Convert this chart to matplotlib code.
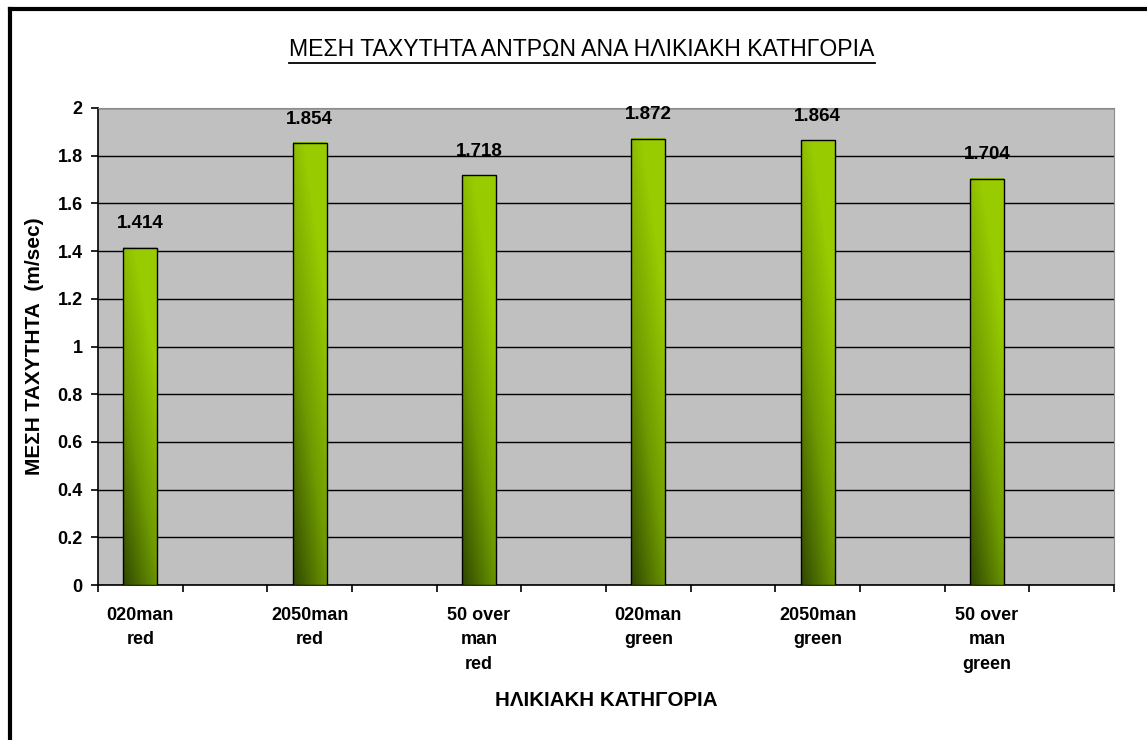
import numpy as np
import matplotlib
matplotlib.use("Agg")
import matplotlib.pyplot as plt
from matplotlib.lines import Line2D
from matplotlib.colors import LinearSegmentedColormap

plt.rcParams['font.family'] = ['Liberation Sans', 'DejaVu Sans']

# mean speed of men per age group
categories = ['020man\nred', '2050man\nred', '50 over\nman\nred',
              '020man\ngreen', '2050man\ngreen', '50 over\nman\ngreen']
speeds = [1.414, 1.854, 1.718, 1.872, 1.864, 1.704]
yticks = [0, 0.2, 0.4, 0.6, 0.8, 1, 1.2, 1.4, 1.6, 1.8, 2]
ytick_labels = ['0', '0.2', '0.4', '0.6', '0.8', '1', '1.2', '1.4', '1.6', '1.8', '2']

title = 'ΜΕΣΗ ΤΑΧΥΤΗΤΑ ΑΝΤΡΩΝ ΑΝΑ ΗΛΙΚΙΑΚΗ ΚΑΤΗΓΟΡΙΑ'
xlabel = 'ΗΛΙΚΙΑΚΗ ΚΑΤΗΓΟΡΙΑ'
ylabel = 'ΜΕΣΗ ΤΑΧΥΤΗΤΑ  (m/sec)'

fig = plt.figure(figsize=(11.47, 7.4), dpi=100)
ax = fig.add_axes([98 / 1147, 1 - 585 / 740, 1016 / 1147, 477 / 740])
ax.set_facecolor('#c0c0c0')

# every bar sits in a slot with an empty slot after it
pos = np.arange(len(categories)) * 2
bars = ax.bar(pos, speeds, width=0.4, facecolor='none', edgecolor='black',
              linewidth=1.0, zorder=4)

# diagonal gradient fill, dark olive bottom-left to bright green top-right
cmap = LinearSegmentedColormap.from_list('grn', ['#2f4800', '#6f9a00', '#99cc00'])
u = np.linspace(0, 1, 40)
v = np.linspace(0, 1, 200)
U, V = np.meshgrid(u, v)
grad = np.clip(0.45 * U + 0.85 * V, 0, 1)
for b in bars:
    x0, y0 = b.get_x(), b.get_y()
    w, h = b.get_width(), b.get_height()
    ax.imshow(grad, cmap=cmap, vmin=0, vmax=1, origin='lower', aspect='auto',
              extent=(x0, x0 + w, y0, y0 + h), zorder=3, interpolation='bilinear')

for b, val in zip(bars, speeds):
    ax.annotate(f'{val:.3f}', (b.get_x() + b.get_width() / 2, val),
                xytext=(0, 11), textcoords='offset points', ha='center', va='bottom',
                fontsize=13.5, fontweight='bold', zorder=5)

ax.set_xlim(-0.5, 11.5)
ax.set_ylim(0, 2)
ax.set_yticks(yticks)
ax.set_yticklabels(ytick_labels)
ax.yaxis.grid(True, color='black', linewidth=1.0)
ax.set_axisbelow(True)

# tick marks at slot borders, labels under the bars
ax.set_xticks(np.arange(-0.5, 12, 1))
ax.set_xticklabels([])
ax.set_xticks(pos, minor=True)
ax.set_xticklabels(categories, minor=True, fontsize=13, fontweight='bold',
                   linespacing=1.55, va='top')
ax.tick_params(axis='x', which='major', direction='out', length=5, width=1.2)
ax.tick_params(axis='x', which='minor', length=0, pad=16)
ax.tick_params(axis='y', direction='out', length=5, width=1.2, pad=6,
               labelsize=13)
for lab in ax.get_yticklabels():
    lab.set_fontweight('bold')

ax.spines['left'].set_color('black')
ax.spines['left'].set_linewidth(1.2)
ax.spines['bottom'].set_color('black')
ax.spines['bottom'].set_linewidth(1.2)
ax.spines['top'].set_color('#8c8c8c')
ax.spines['right'].set_color('#8c8c8c')

fig.text(35 / 1147, 1 - 346 / 740, ylabel, rotation=90, ha='center', va='center',
         fontsize=15, fontweight='bold')
fig.text(606 / 1147, 1 - 700 / 740, xlabel, ha='center', va='center',
         fontsize=14.8, fontweight='bold')
t = fig.text(582 / 1147, 1 - 50 / 740, title, ha='center', va='center', fontsize=16.6)

# underline the title
fig.canvas.draw()
bb = t.get_window_extent().transformed(fig.transFigure.inverted())
fig.add_artist(Line2D([bb.x0, bb.x1], [bb.y0 - 0.002, bb.y0 - 0.002],
                      transform=fig.transFigure, color='black', linewidth=1.3))

# outer frame on the left and top
fig.add_artist(Line2D([9.5 / 1147, 9.5 / 1147], [0, 1 - 9 / 740],
                      transform=fig.transFigure, color='black', linewidth=3,
                      solid_capstyle='projecting'))
fig.add_artist(Line2D([9.5 / 1147, 1], [1 - 9 / 740, 1 - 9 / 740],
                      transform=fig.transFigure, color='black', linewidth=3,
                      solid_capstyle='projecting'))

fig.savefig('out.png', dpi=100)
